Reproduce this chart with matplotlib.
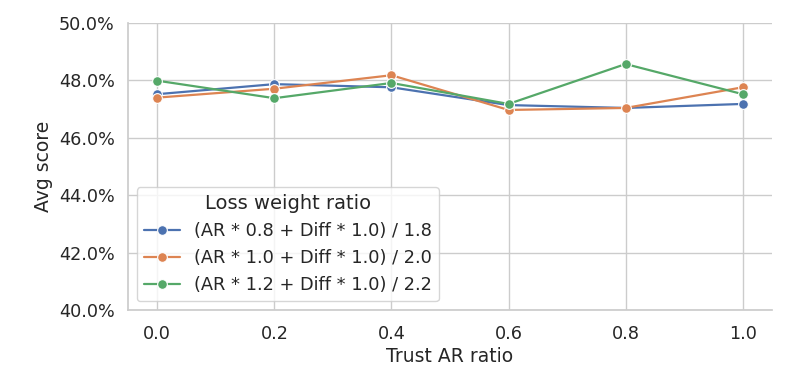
import matplotlib
matplotlib.use('Agg')
import matplotlib.pyplot as plt
import seaborn as sns
from matplotlib.ticker import PercentFormatter

sns.set_theme(style='whitegrid')
plt.rcParams['font.family'] = ['DejaVu Sans']

trust_ar = [0.0, 0.2, 0.4, 0.6, 0.8, 1.0]
labels = ['(AR * 0.8 + Diff * 1.0) / 1.8',
          '(AR * 1.0 + Diff * 1.0) / 2.0',
          '(AR * 1.2 + Diff * 1.0) / 2.2']
score_08 = [0.4752, 0.4787, 0.4776, 0.4714, 0.4704, 0.4718]
score_10 = [0.4740, 0.4771, 0.4818, 0.4697, 0.4704, 0.4776]
score_12 = [0.4799, 0.4738, 0.4791, 0.4718, 0.4857, 0.4752]

colors = sns.color_palette('deep')

fig = plt.figure(figsize=(7.88, 3.78), dpi=100)
ax = fig.add_axes([128/788, 1-310/378, (772-128)/788, (310-23)/378])

for s, lab, c in zip([score_08, score_10, score_12], labels, colors):
    ax.plot(trust_ar, s, marker='o', color=c, label=lab, linewidth=1.6,
            markersize=7, markeredgecolor='white', markeredgewidth=0.8)

ax.set_ylim(0.40, 0.50)
ax.set_xticks(trust_ar)
ax.yaxis.set_major_formatter(PercentFormatter(1.0, decimals=1))
ax.tick_params(labelsize=12.7)
ax.tick_params(axis='x', pad=5)
ax.set_xlabel('Trust AR ratio', fontsize=13.5, labelpad=3)
ax.set_ylabel('Avg score', fontsize=13.5)
sns.despine(ax=ax)
for sp in ['left', 'bottom']:
    ax.spines[sp].set_color('#cccccc')

leg = ax.legend(title='Loss weight ratio', loc='lower left', fontsize=12.8,
                title_fontsize=14)

fig.savefig('out.png', dpi=100)
